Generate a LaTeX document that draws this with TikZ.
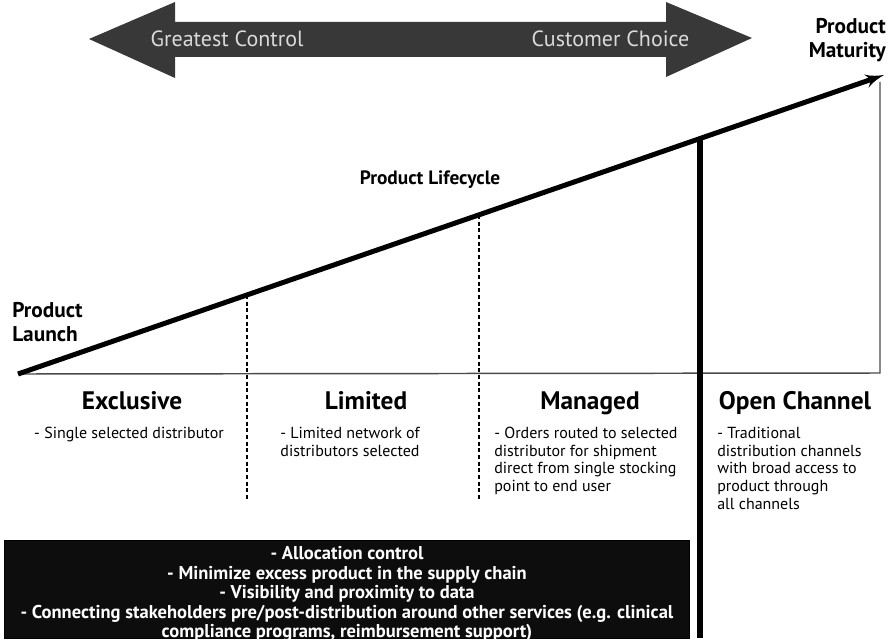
\documentclass[tikz,border=0pt]{standalone}
\usepackage{fontspec}
\setmainfont{PT Sans}
\usetikzlibrary{positioning,arrows,calc,shapes}
\definecolor{arrowgray}{HTML}{383838}
\definecolor{labelgray}{HTML}{DADADA}
\definecolor{basegray}{HTML}{4A4A4A}
\tikzset{
    x=0.75pt,
    y=-0.75pt,
    >=latex',
    scalelabel/.style = {
        text=labelgray,
        font=\fontsize{16.5}{18}\selectfont
    },
    stage/.style = {
        font=\bfseries\fontsize{19}{22}\selectfont,
        anchor=base
    },
    stagetext/.style = {
        font=\fontsize{12}{13.2}\selectfont,
        inner sep=0pt
    },
    axislabel/.style = {
        font=\bfseries\fontsize{16}{17.5}\selectfont,
        inner sep=0pt
    },
    benefitbox/.style = {
        draw=black,
        fill=black!95,
        shape=rectangle,
        minimum width=513.75pt,
        minimum height=73.5pt
    },
    benefittext/.style = {
        text=white,
        inner sep=0pt,
        align=center,
        font=\bfseries\fontsize{13.9}{14.6}\selectfont
    },
    lifeline/.style = {
        line width=3.75pt
    },
    stageline/.style = {
        line width=1pt,
        dash pattern=on 3pt off 2pt
    }
}

\begin{document}
\begin{tikzpicture}
            \useasboundingbox (0,0) rectangle (888,642);

            % control vs choice
            \path[fill=arrowgray] (89,39) -- (175,2) -- (175,22) -- (666,22) -- (666,2) -- (752,38)
                -- (666,77) -- (666,57) -- (175,57) -- (175,78) -- cycle;
            \node[scalelabel, anchor=west] (control) at (146,39) {Greatest Control};
            \node[scalelabel, anchor=east] (choice) at (694,39) {Customer Choice};

            % lifecycle
            \coordinate (launch) at (18,374);
            \coordinate (maturity) at (884,75);
            \coordinate (corner) at (880,373);
            \coordinate (edge) at (880,82);
            \path[draw, basegray, line width=1.1pt] (launch) -- (corner) -- (edge);
            \path[draw, ->, lifeline] (launch) -- (maturity)
                coordinate[pos=0.2644] (cut1)
                coordinate[pos=0.5323] (cut2)
                coordinate[pos=0.7876] (cut3);

            \coordinate (cut1end) at (cut1 |- 0,500);
            \coordinate (cut2end) at (cut2 |- 0,500);
            \coordinate (cut3end) at (cut3 |- 0,638);
            \path[draw, stageline] (cut1) -- (cut1end);
            \path[draw, stageline] (cut2) -- (cut2end);
            \path[draw, line width=4.2pt] (cut3) -- (cut3end);

            \node[axislabel, align=left, anchor=west] (launchlabel) at (12,322) {Product\\Launch};
            \node[axislabel, align=right, anchor=east] (maturitylabel) at (886,40) {Product\\Maturity};
            \node[axislabel, font=\bfseries\fontsize{14.5}{17}\selectfont] (lifecycle) at (430,180) {Product Lifecycle};

            % stages
            \node[stage] (exclusive) at (132,409) {Exclusive};
            \node[stage] (limited) at (366,409) {Limited};
            \node[stage] (managed) at (590,409) {Managed};
            \node[stage] (open) at (795,409) {Open Channel};

            \node[stagetext, align=center, anchor=north] (exclusivetext) at (129,427) {- Single selected distributor};
            \node[stagetext, align=center, anchor=north] (limitedtext) at (350,427) {- Limited network of\\distributors selected};
            \node[stagetext, align=left, anchor=north west] (managedtext) at (494,427) {- Orders routed to selected\\distributor for shipment\\direct from single stocking\\point to end user};
            \node[stagetext, align=left, anchor=north west] (opentext) at (717,427) {- Traditional\\distribution channels\\with broad access to\\product through\\all channels};

            % what the channel gives
            \node[benefitbox] (gains) at (347,589) {};
            \node[benefittext, yshift=-4pt] (gainstext) at (gains.center) {- Allocation control\\- Minimize excess product in the supply chain\\- Visibility and proximity to data\\- Connecting stakeholders pre/post-distribution around other services (e.g. clinical\\compliance programs, reimbursement support)};

        \end{tikzpicture}
\end{document}
